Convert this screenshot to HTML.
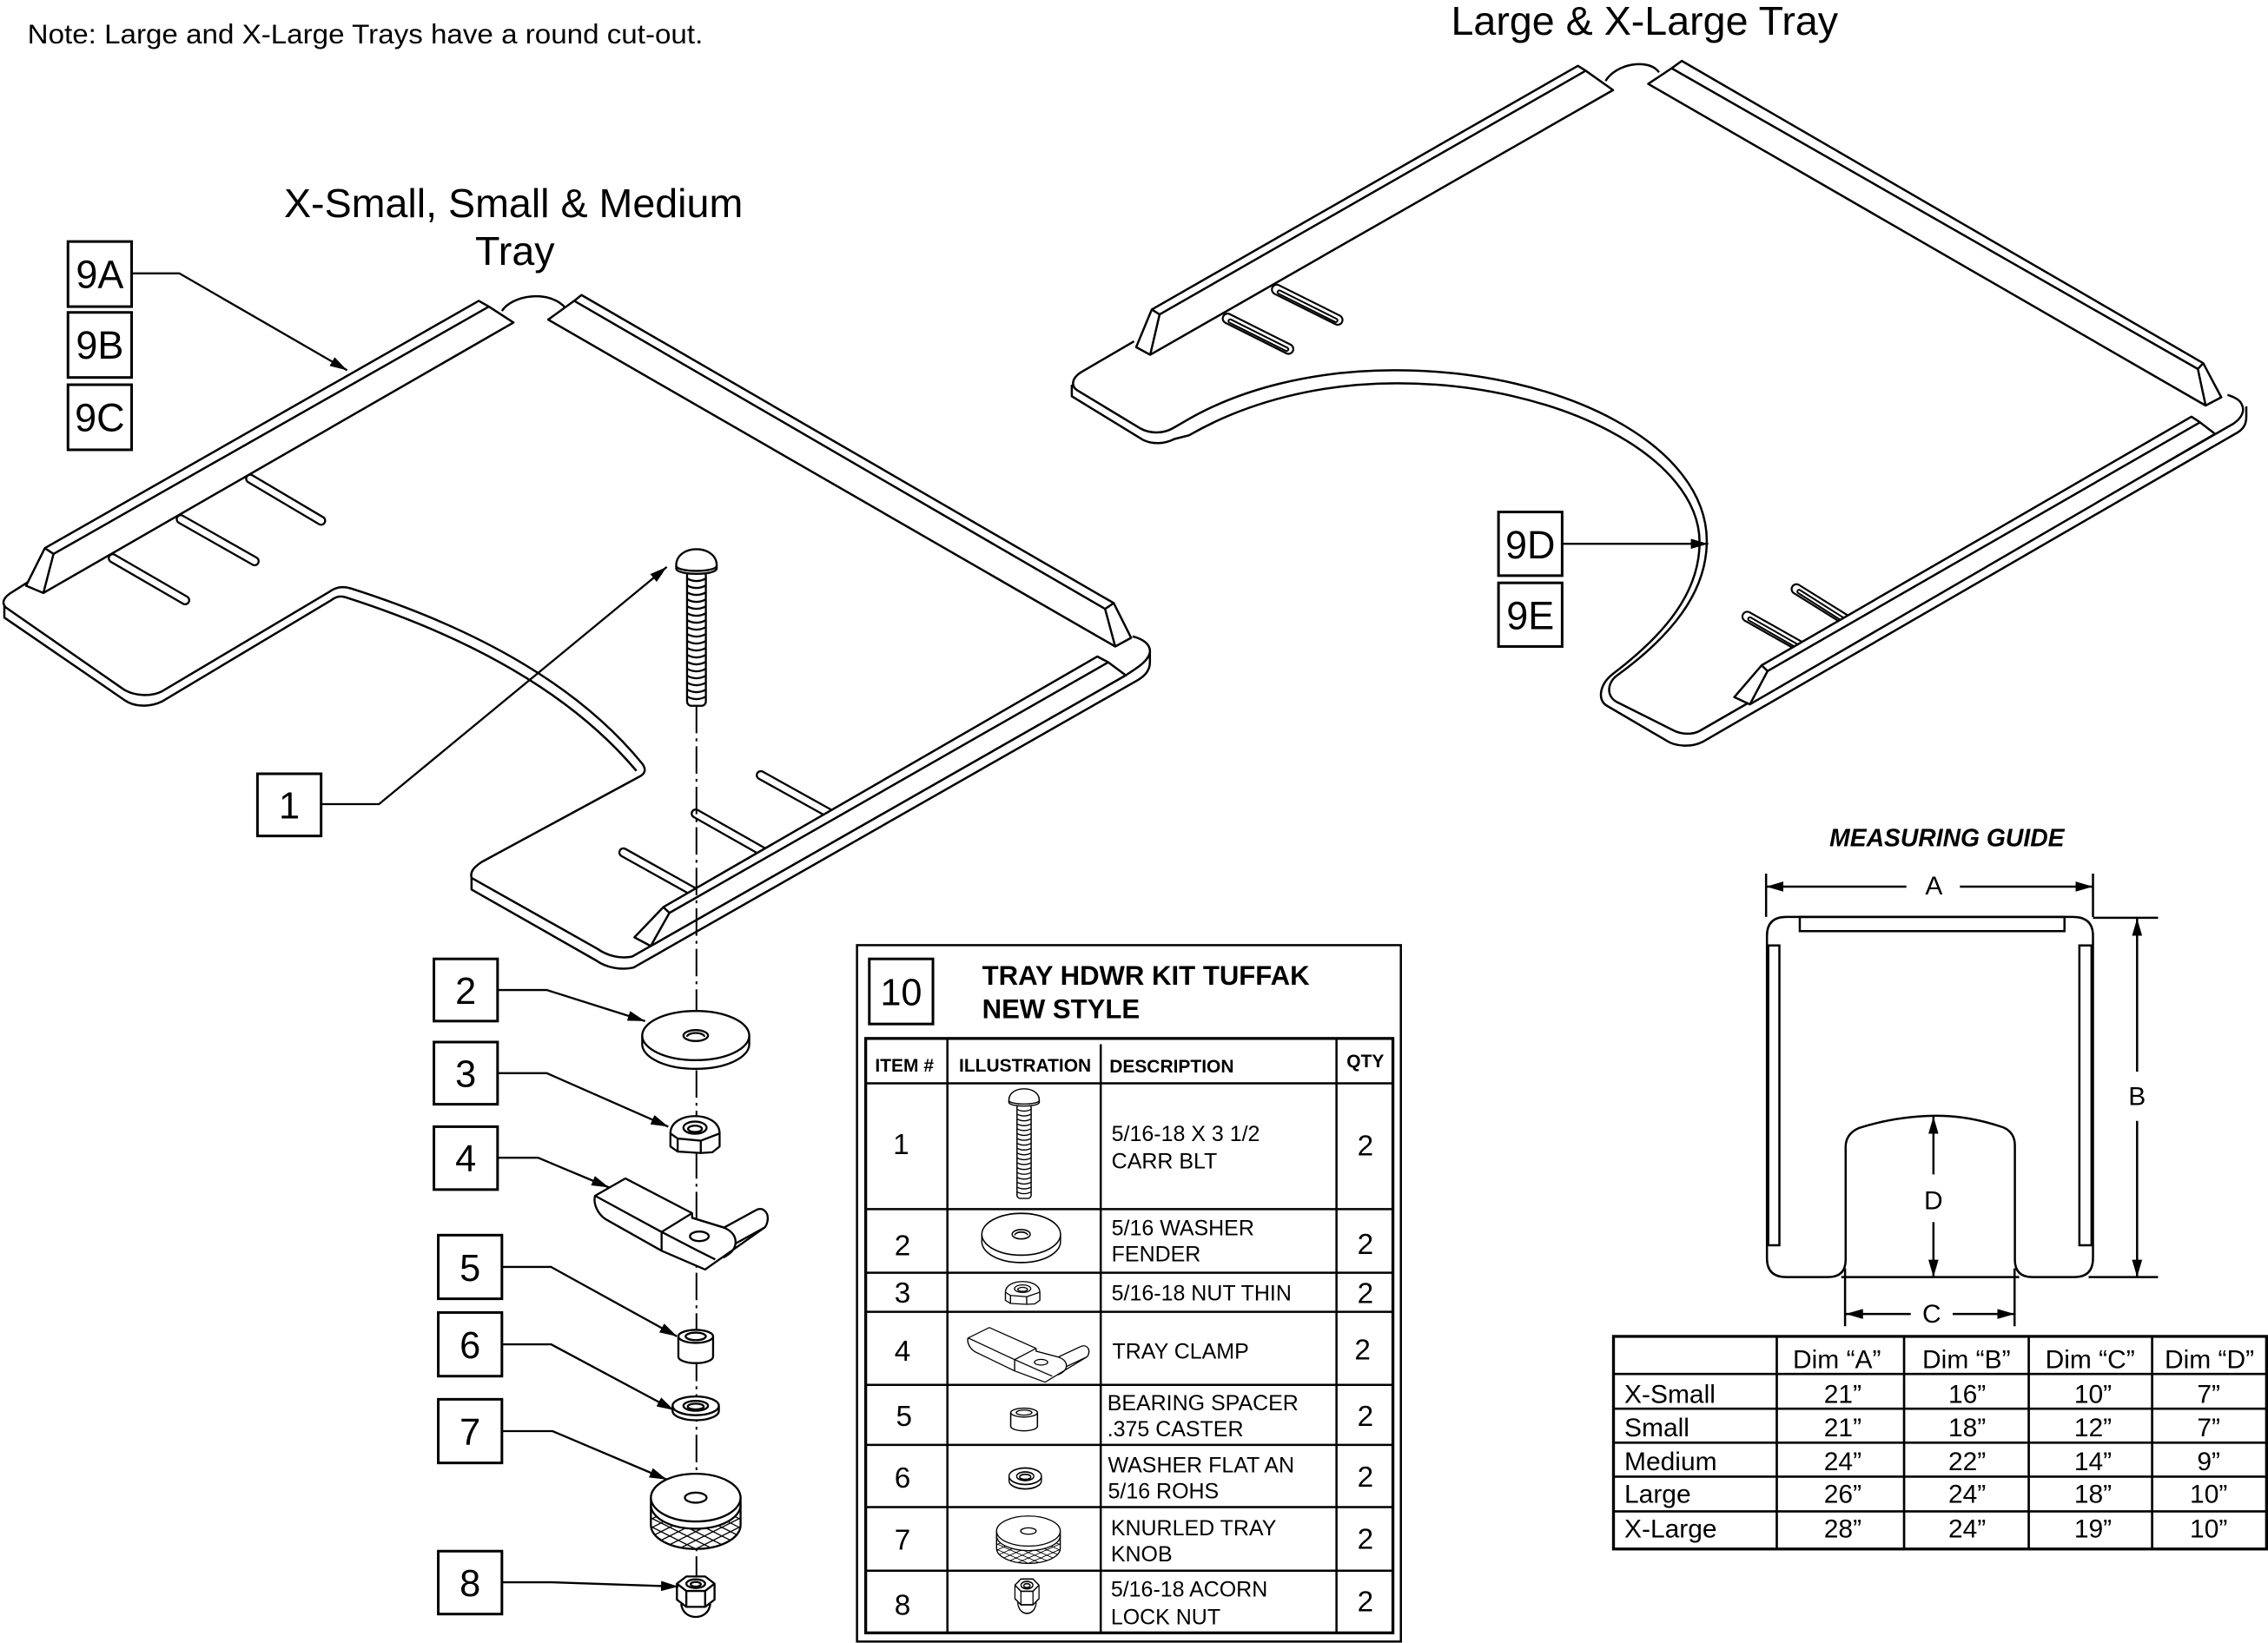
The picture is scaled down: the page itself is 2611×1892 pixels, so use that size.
<!DOCTYPE html>
<html><head><meta charset="utf-8"><style>
html,body{margin:0;padding:0;background:#fff;}
svg{display:block;}
text{font-family:"Liberation Sans",Arial,sans-serif;fill:#000;}
</style></head><body>
<svg xmlns="http://www.w3.org/2000/svg" width="2611" height="1892" viewBox="0 0 1568 1136" preserveAspectRatio="none">
<defs>
<marker id="ar" viewBox="0 0 12 7" refX="12" refY="3.5" markerWidth="12" markerHeight="7" markerUnits="userSpaceOnUse" orient="auto-start-reverse"><path d="M0,0 L12,3.5 L0,7 Z" fill="#000"/></marker>
<clipPath id="kclip"><path d="M-31,5 A31,16.5 0 0 0 31,5 L31,19 A31,16.5 0 0 1 -31,19 Z"/></clipPath>
<g id="bolt">
<rect x="-6.5" y="5" width="13" height="93" rx="3" fill="#fff"/>
<path fill="none" d="M-6.5,10q6.5,3.5 13,0M-6.5,14.8q6.5,3.5 13,0M-6.5,19.6q6.5,3.5 13,0M-6.5,24.4q6.5,3.5 13,0M-6.5,29.2q6.5,3.5 13,0M-6.5,34q6.5,3.5 13,0M-6.5,38.8q6.5,3.5 13,0M-6.5,43.6q6.5,3.5 13,0M-6.5,48.4q6.5,3.5 13,0M-6.5,53.2q6.5,3.5 13,0M-6.5,58q6.5,3.5 13,0M-6.5,62.8q6.5,3.5 13,0M-6.5,67.6q6.5,3.5 13,0M-6.5,72.4q6.5,3.5 13,0M-6.5,77.2q6.5,3.5 13,0M-6.5,82q6.5,3.5 13,0M-6.5,86.8q6.5,3.5 13,0M-6.5,91.6q6.5,3.5 13,0"/>
<path d="M-14,1 L-14,3 C-14,8 14,8 14,3 L14,1" fill="#fff"/>
<path d="M-14,1 C-14,-14 14,-14 14,1 C14,6 -14,6 -14,1 Z" fill="#fff"/>
</g>
<g id="w2">
<path d="M-37,0 V6 A37,17 0 0 0 37,6 V0" fill="#fff"/>
<ellipse rx="37" ry="17" fill="#fff"/>
<ellipse rx="8.5" ry="3.8" fill="#fff"/>
<path d="M-6,0.8 A6,2.6 0 0 1 6,0.8" fill="none"/>
</g>
<g id="n3">
<path d="M-17,4 C-17,-12 17,-12 17,4 L17,13 L12,17 L4,17.5 L-12,16.5 L-17,13 Z" fill="#fff"/>
<path d="M-17,4 L-12,7.5 L4,9 L17,4 M-12,7.5 V16.5 M4,9 V17.5" fill="none"/>
<ellipse rx="8" ry="4.2" fill="#fff"/>
<ellipse cy="0.8" rx="4.8" ry="2.2" fill="none"/>
</g>
<g id="clamp">
<path fill="#fff" d="M411.4,826.8 L432.4,814.8 L478.5,838.8 L478.5,842 L500.5,848.8 L522.5,836.8 C527,834 532,838 530.5,844.8 C530,847 529.5,848 528.5,848.8 L490,876 L487.5,877.8 L457.4,864.8 L418.4,842.8 C413,839 410,832 411.4,826.8 Z"/>
<path fill="none" d="M411.4,826.8 L457.4,851.8 L478.5,838.8 M457.4,851.8 V864.8 M457.4,851.8 L482.5,864.8 L494.5,870.8 M478.5,842 L500.5,848.8 C506,851 509,855 508.5,859.8 C508,864 505,867 500,869.5 M508.5,859.8 L528.5,848.8"/>
<ellipse cx="483.5" cy="854.8" rx="6.5" ry="3.3" fill="#fff"/>
</g>
<g id="sp">
<path d="M-12,0 V14 A12,4.5 0 0 0 12,14 V0" fill="#fff"/>
<ellipse rx="12" ry="4.5" fill="#fff"/>
<ellipse rx="7" ry="2.6" fill="#fff"/>
</g>
<g id="w6">
<path d="M-16,0 V3.5 A16,6.5 0 0 0 16,3.5 V0" fill="#fff"/>
<ellipse rx="16" ry="6.5" fill="#fff"/>
<ellipse rx="8.5" ry="3.4" fill="#fff"/>
<ellipse cy="0.5" rx="5.5" ry="2" fill="none"/>
</g>
<g id="kn">
<path d="M-31,0 V19 A31,16.5 0 0 0 31,19 V0" fill="#fff"/>
<g clip-path="url(#kclip)"><path stroke-width="0.8" fill="none" d="M-35,-30l70,35M-35,-24l70,35M-35,-18l70,35M-35,-12l70,35M-35,-6l70,35M-35,0l70,35M-35,6l70,35M-35,12l70,35M-35,18l70,35M-35,24l70,35M-35,30l70,35M-35,36l70,35M-35,5l70,-35M-35,11l70,-35M-35,17l70,-35M-35,23l70,-35M-35,29l70,-35M-35,35l70,-35M-35,41l70,-35M-35,47l70,-35M-35,53l70,-35M-35,59l70,-35M-35,65l70,-35M-35,71l70,-35"/></g>
<path d="M-31,5 A31,16.5 0 0 0 31,5" fill="none"/>
<ellipse rx="31" ry="16.5" fill="#fff"/>
<ellipse rx="7.5" ry="3.5" fill="#fff"/>
</g>
<g id="ac">
<path d="M-10,14 C-9,26 9,26 10,14" fill="#fff"/>
<path d="M-13,0 L-6.5,-5 L6.5,-5 L13,0 L13,11 L6.5,16 L-6.5,16 L-13,11 Z" fill="#fff"/>
<path d="M-13,0 L-6.5,5 L6.5,5 L13,0 M-6.5,5 V16 M6.5,5 V16" fill="none"/>
<ellipse rx="6.5" ry="3" fill="#fff"/>
<ellipse cy="0.4" rx="3.5" ry="1.6" fill="none"/>
</g>
</defs>

<!-- Titles -->
<text x="19" y="30" font-size="19" textLength="467" lengthAdjust="spacingAndGlyphs">Note: Large and X-Large Trays have a round cut-out.</text>
<text x="1137" y="24" font-size="28" text-anchor="middle">Large &amp; X-Large Tray</text>
<text x="355" y="150" font-size="28" text-anchor="middle">X-Small, Small &amp; Medium</text>
<text x="356" y="183" font-size="28" text-anchor="middle">Tray</text>

<!-- ===== LEFT TRAY ===== -->
<g stroke-linecap="round" fill="none">
<g stroke="#000" stroke-width="7">
<line x1="173" y1="331" x2="222" y2="360"/><line x1="125" y1="359" x2="176" y2="388"/><line x1="78" y1="386" x2="128" y2="415"/>
<line x1="526" y1="536" x2="580" y2="566"/><line x1="481" y1="562.5" x2="533" y2="592"/><line x1="431" y1="589.4" x2="484" y2="619"/>
</g>
<g stroke="#fff" stroke-width="4.2">
<line x1="173" y1="331" x2="222" y2="360"/><line x1="125" y1="359" x2="176" y2="388"/><line x1="78" y1="386" x2="128" y2="415"/>
<line x1="526" y1="536" x2="580" y2="566"/><line x1="481" y1="562.5" x2="533" y2="592"/><line x1="431" y1="589.4" x2="484" y2="619"/>
</g>
</g>
<g fill="none" stroke="#000" stroke-width="1.5" stroke-linejoin="round">
<path d="M20,402 L9,409 C2,413 1,417 4,420 L86,477 C93,481 104,482 112,478 L228,409 C232,406 237,405 243,407 Q381,451 444,528 C447,532 446,535 442,537 L333,596 C327,600 325,603 326,607 L413,656 C420,661 429,663 437,661.4 L778.3,466.9 C786,462 794,457 795,451 C795.5,446 791,442 783,440"/>
<path d="M3,419 L3,427 L86,484 C93,489 104,489 112,485 L229,415 C233,412 236,412 239,413 Q376,457 440,533"/>
<path d="M326,607 L326,615 L412,664 C419,669 429,671 438,669 L787,470 C792,467 795,463 795,458 L795,451"/>
<path d="M347,215 C354,204 380,200 391,213"/>
</g>
<g stroke="#000" stroke-width="1.5" stroke-linejoin="round">
<path fill="#fff" d="M18,405 L31,379 L331,208 L338,212 L355,223 L30,410 Z"/>
<path fill="none" d="M31,379 L37,383 L338,212 M37,383 L30,410"/>
<path fill="#fff" d="M379,221 L397,208 L402,204 L770,417 L782,441 L771,447 Z"/>
<path fill="none" d="M397,208 L764,421 L770,417 M764,421 L771,447"/>
<path fill="#fff" d="M438.6,648.1 L458.6,627.2 L758.7,453.9 L766.2,457.9 L778.3,466.9 L449.9,654.1 Z"/>
<path fill="none" d="M458.6,627.2 L462.8,631.2 L766.2,457.9 M462.8,631.2 L449.9,654.1"/>
</g>

<!-- ===== RIGHT TRAY ===== -->
<g stroke-linecap="round" fill="none">
<g stroke="#000" stroke-width="8"><line x1="848.7" y1="220.2" x2="890.8" y2="241.3"/><line x1="882.7" y1="200.2" x2="924.8" y2="221.2"/><line x1="1242" y1="407.3" x2="1280" y2="431"/><line x1="1208" y1="426.3" x2="1250" y2="450"/></g>
<g stroke="#fff" stroke-width="5.4"><line x1="848.7" y1="220.2" x2="890.8" y2="241.3"/><line x1="882.7" y1="200.2" x2="924.8" y2="221.2"/><line x1="1242" y1="407.3" x2="1280" y2="431"/><line x1="1208" y1="426.3" x2="1250" y2="450"/></g>
<g stroke="#000" stroke-width="3.6"><line x1="850.5" y1="222" x2="889.5" y2="241.5"/><line x1="884.5" y1="202" x2="923.5" y2="221.5"/><line x1="1243.8" y1="409" x2="1280" y2="432"/><line x1="1209.8" y1="428" x2="1250" y2="451"/></g>
<g stroke="#fff" stroke-width="1.2"><line x1="850.5" y1="222" x2="889.5" y2="241.5"/><line x1="884.5" y1="202" x2="923.5" y2="221.5"/><line x1="1243.8" y1="409" x2="1280" y2="432"/><line x1="1209.8" y1="428" x2="1250" y2="451"/></g>
</g>
<g fill="none" stroke="#000" stroke-width="1.5" stroke-linejoin="round">
<path d="M784,236 L748,257 C741,261 740,267 745,270 L788,296 C795,300 804,300 811,296 L818,292 C858,268 910,256 964,256 C1083,256 1180,309 1180,374 C1180,410 1155,440 1118,467 C1111,472 1110,482 1119,486 L1157,505 C1163,508 1170,508 1175,505.4 L1544,293 C1550,289 1552,284 1550,280 C1549,277 1546,275 1540,273"/>
<path d="M741,266 L741,274 L790,304 C797,307.5 805,307 812,303.5 L822,301 C862,278 912,265 966,265 C1078,265 1175,316 1175,375 C1175,409 1152,438 1115,466 C1106,473 1104,484 1111,488 L1152,512 C1158,516 1169,517 1177,513 L1547,299 C1552,296 1553,292 1553,288 L1553,281"/>
<path d="M1110,56 C1117,44 1140,40 1147,50"/>
</g>
<g stroke="#000" stroke-width="1.5" stroke-linejoin="round">
<path fill="#fff" d="M785.5,240 L796.3,214 L1090.9,45.5 L1096.3,48.9 L1115.2,62.3 L795.2,245.3 Z"/>
<path fill="none" d="M796.3,214 L801.7,217.4 L1096.3,48.9 M801.7,217.4 L795.2,245.3"/>
<path fill="#fff" d="M1139.5,58 L1155.7,47.2 L1162.7,42.1 L1523.2,251.1 L1535.7,274.7 L1524.9,280.4 Z"/>
<path fill="none" d="M1155.7,47.2 L1519.5,255.1 L1523.2,251.1 M1519.5,255.1 L1524.9,280.4"/>
<path fill="#fff" d="M1199,482 L1217.9,460 L1515.1,288.1 L1521,292 L1531.4,300 L1209.8,487 Z"/>
<path fill="none" d="M1217.9,460 L1222,464 L1521,292 M1222,464 L1209.8,487"/>
</g>

<!-- centerline -->
<path d="M481.5,488 V1090" stroke="#000" stroke-width="1.2" stroke-dasharray="19 3.5 2 3.5" fill="none"/>

<!-- stack parts -->
<g stroke="#000" stroke-width="1.4" stroke-linejoin="round">
<use href="#bolt" transform="translate(481.5,390)"/>
<use href="#w2" transform="translate(481,716)"/>
<use href="#n3" transform="translate(480.5,779.7)"/>
<use href="#clamp"/>
<use href="#sp" transform="translate(481,924)"/>
<use href="#w6" transform="translate(481,972)"/>
<use href="#kn" transform="translate(481,1035.5)"/>
<use href="#ac" transform="translate(481,1095)"/>
</g>

<!-- leaders -->
<g fill="none" stroke="#000" stroke-width="1.4" marker-end="url(#ar)">
<path d="M91,189 H124 L240,256"/>
<path d="M222,556 H262 L461,392"/>
<path d="M1080,376 H1181"/>
<path d="M344,684.5 H378 L446,706"/>
<path d="M344,742 H378 L462,779"/>
<path d="M344,800.5 H372 L421,821"/>
<path d="M347,876 H381 L468,924"/>
<path d="M347,929.5 H381 L466,975"/>
<path d="M347,989.5 H382 L461,1023"/>
<path d="M347,1094 H381 L469,1097"/>
</g>

<!-- label boxes -->
<g fill="#fff" stroke="#000" stroke-width="1.8">
<rect x="47" y="167" width="44" height="45"/><rect x="47" y="216" width="44" height="45"/><rect x="47" y="266" width="44" height="45"/>
<rect x="178" y="535" width="44" height="43"/>
<rect x="300" y="663" width="44" height="43"/><rect x="300" y="720.5" width="44" height="43"/><rect x="300" y="779" width="44" height="43.5"/>
<rect x="303" y="854" width="44" height="44"/><rect x="303" y="907.5" width="44" height="44"/><rect x="303" y="967.5" width="44" height="44"/><rect x="303" y="1072.5" width="44" height="43.5"/>
<rect x="1036" y="354" width="44" height="44"/><rect x="1036" y="403" width="44" height="44"/>
</g>
<g font-size="27" text-anchor="middle">
<text x="69" y="199">9A</text><text x="69" y="248">9B</text><text x="69" y="298">9C</text>
<text x="1058" y="386">9D</text><text x="1058" y="435">9E</text>
</g>
<g font-size="26" text-anchor="middle">
<text x="200" y="566">1</text>
<text x="322" y="694">2</text><text x="322" y="751.5">3</text><text x="322" y="810">4</text>
<text x="325" y="885.5">5</text><text x="325" y="939">6</text><text x="325" y="999">7</text><text x="325" y="1103.5">8</text>
</g>

<!-- ===== HARDWARE KIT TABLE ===== -->
<rect x="592.5" y="653.5" width="376" height="481.5" fill="none" stroke="#000" stroke-width="1.5"/>
<rect x="601" y="663" width="44" height="45" fill="none" stroke="#000" stroke-width="1.8"/>
<text x="623" y="695" font-size="26" text-anchor="middle">10</text>
<text x="679" y="681" font-size="18.7" font-weight="bold">TRAY HDWR KIT TUFFAK</text>
<text x="679" y="704" font-size="18.7" font-weight="bold">NEW STYLE</text>
<rect x="598.5" y="718" width="364.5" height="411" fill="none" stroke="#000" stroke-width="2"/>
<g stroke="#000" stroke-width="1.5">
<line x1="655" y1="718" x2="655" y2="1129"/><line x1="761" y1="722" x2="761" y2="1129"/><line x1="924" y1="718" x2="924" y2="1129"/>
<line x1="598.5" y1="749" x2="963" y2="749"/><line x1="598.5" y1="836" x2="963" y2="836"/><line x1="598.5" y1="880" x2="963" y2="880"/>
<line x1="598.5" y1="907" x2="963" y2="907"/><line x1="598.5" y1="957.5" x2="963" y2="957.5"/><line x1="598.5" y1="999" x2="963" y2="999"/>
<line x1="598.5" y1="1042" x2="963" y2="1042"/><line x1="598.5" y1="1086" x2="963" y2="1086"/>
</g>
<g font-size="12.6" font-weight="bold">
<text x="605" y="741">ITEM #</text><text x="663" y="741">ILLUSTRATION</text><text x="767" y="741.5">DESCRIPTION</text><text x="931" y="738">QTY</text>
</g>
<g font-size="20" text-anchor="middle">
<text x="623" y="798">1</text><text x="624" y="868">2</text><text x="624" y="900.5">3</text><text x="624" y="941">4</text>
<text x="625" y="986">5</text><text x="624" y="1028.5">6</text><text x="624" y="1071.5">7</text><text x="624" y="1116.5">8</text>
<text x="944" y="799">2</text><text x="944" y="867">2</text><text x="944" y="901">2</text><text x="942" y="940">2</text>
<text x="944" y="986">2</text><text x="944" y="1028">2</text><text x="944" y="1071">2</text><text x="944" y="1114">2</text>
</g>
<g font-size="15">
<text x="768.5" y="789">5/16-18 X 3 1/2</text><text x="768.5" y="808">CARR BLT</text>
<text x="768.5" y="854">5/16 WASHER</text><text x="768.5" y="872">FENDER</text>
<text x="768.5" y="899">5/16-18 NUT THIN</text>
<text x="769" y="939.5">TRAY CLAMP</text>
<text x="765.5" y="975">BEARING SPACER</text><text x="765.5" y="993">.375 CASTER</text>
<text x="766" y="1018">WASHER FLAT AN</text><text x="766" y="1036">5/16 ROHS</text>
<text x="768" y="1061.5">KNURLED TRAY</text><text x="768" y="1079.5">KNOB</text>
<text x="768" y="1104">5/16-18 ACORN</text><text x="768" y="1123">LOCK NUT</text>
</g>
<g stroke="#000" stroke-width="1.2" stroke-linejoin="round">
<use href="#bolt" transform="translate(708,760) scale(0.75,0.7)"/>
<use href="#w2" transform="translate(706,853.4) scale(0.735,0.85)"/>
<use href="#n3" transform="translate(707,891) scale(0.7,0.62)"/>
<use href="#clamp" transform="translate(381.3,429) scale(0.7,0.6)"/>
<use href="#sp" transform="translate(708,976.7) scale(0.77,0.68)"/>
<use href="#w6" transform="translate(708.8,1020.7) scale(0.7,0.88)"/>
<use href="#kn" transform="translate(711,1058.6) scale(0.71,0.63)"/>
<use href="#ac" transform="translate(710,1096) scale(0.64,0.85)"/>
</g>

<!-- ===== MEASURING GUIDE ===== -->
<text x="1346" y="585" font-size="17" font-weight="bold" font-style="italic" text-anchor="middle">MEASURING GUIDE</text>
<g fill="none" stroke="#000" stroke-width="1.5">
<path d="M1221.6,647 Q1221.6,634 1235,634 L1433,634 Q1447,634 1447,647 L1447,870 Q1447,883 1434,883 L1405,883 Q1393,883 1393,871 L1393,792 Q1393,783 1385,779.5 Q1360,771 1337,771.5 Q1310,772 1285,780 Q1276,784 1276,793 L1276,871 Q1276,883 1264,883 L1235,883 Q1221.6,883 1221.6,870 Z"/>
<rect x="1244.3" y="634" width="183" height="9.8"/>
<rect x="1222.5" y="653.7" width="7.7" height="207.3"/>
<rect x="1437.6" y="653.7" width="8.4" height="207.3"/>
<path d="M1221,604 V634 M1447,604 V634 M1447,634.6 H1492 M1444,883 H1492 M1273,883 H1396 M1275.6,877 V917 M1392.8,877 V917"/>
</g>
<g fill="none" stroke="#000" stroke-width="1.5" marker-end="url(#ar)">
<path d="M1318,613 H1221"/><path d="M1355,613 H1447"/>
<path d="M1477.5,741 V635"/><path d="M1477.5,775 V883"/>
<path d="M1336.7,812 V772"/><path d="M1336.7,845 V883"/>
<path d="M1321,908.5 H1276"/><path d="M1350,908.5 H1392.8"/>
</g>
<g font-size="18" text-anchor="middle">
<text x="1337" y="618.5">A</text><text x="1477.5" y="764">B</text><text x="1336.7" y="836">D</text><text x="1335.5" y="914.5">C</text>
</g>

<!-- ===== DIM TABLE ===== -->
<rect x="1115.5" y="924" width="451.5" height="147" fill="none" stroke="#000" stroke-width="2"/>
<g stroke="#000" stroke-width="1.6">
<line x1="1228.4" y1="924" x2="1228.4" y2="1071"/><line x1="1316.4" y1="924" x2="1316.4" y2="1071"/><line x1="1402.6" y1="924" x2="1402.6" y2="1071"/><line x1="1487.9" y1="924" x2="1487.9" y2="1071"/>
<line x1="1115.5" y1="950" x2="1567" y2="950"/><line x1="1115.5" y1="974" x2="1567" y2="974"/><line x1="1115.5" y1="997.5" x2="1567" y2="997.5"/><line x1="1115.5" y1="1021" x2="1567" y2="1021"/><line x1="1115.5" y1="1045" x2="1567" y2="1045"/>
</g>
<g font-size="18" text-anchor="middle">
<text x="1270" y="946">Dim “A”</text><text x="1359.5" y="946">Dim “B”</text><text x="1445" y="946">Dim “C”</text><text x="1527.5" y="946">Dim “D”</text>
<text x="1274" y="970">21”</text><text x="1360" y="970">16”</text><text x="1447" y="970">10”</text><text x="1527" y="970">7”</text>
<text x="1274" y="993">21”</text><text x="1360" y="993">18”</text><text x="1447" y="993">12”</text><text x="1527" y="993">7”</text>
<text x="1274" y="1016.5">24”</text><text x="1360" y="1016.5">22”</text><text x="1447" y="1016.5">14”</text><text x="1527" y="1016.5">9”</text>
<text x="1274" y="1039">26”</text><text x="1360" y="1039">24”</text><text x="1447" y="1039">18”</text><text x="1527" y="1039">10”</text>
<text x="1274" y="1063">28”</text><text x="1360" y="1063">24”</text><text x="1447" y="1063">19”</text><text x="1527" y="1063">10”</text>
</g>
<g font-size="18">
<text x="1123" y="970">X-Small</text><text x="1123" y="993">Small</text><text x="1123" y="1016.5">Medium</text><text x="1123" y="1039">Large</text><text x="1123" y="1063">X-Large</text>
</g>
</svg>
</body></html>
